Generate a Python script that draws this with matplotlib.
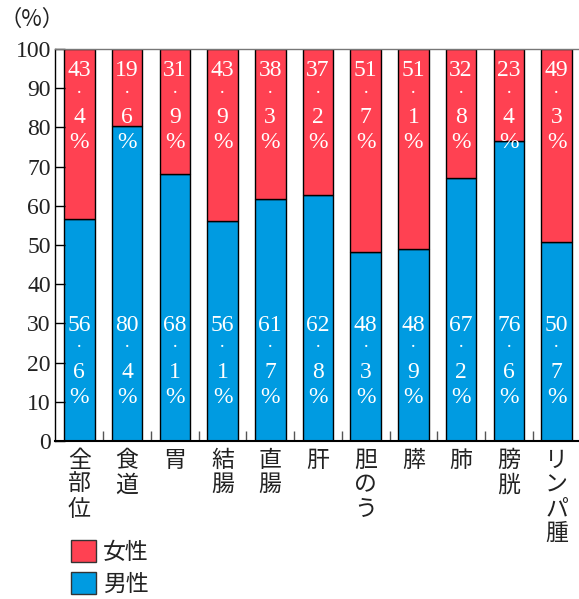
# Stacked share of cancer cases by sex, per site

import matplotlib
matplotlib.use('Agg')
import matplotlib.pyplot as plt
from matplotlib.patches import Patch

# Data
sites=['全部位','食道','胃','結腸','直腸','肝','胆のう','膵','肺','膀胱','リンパ腫']
male=[56.6,80.4,68.1,56.1,61.7,62.8,48.3,48.9,67.2,76.6,50.7]
female=[43.4,19.6,31.9,43.9,38.3,37.2,51.7,51.1,32.8,23.4,49.3]
male_lbl=['56.6','80.4','68.1','56.1','61.7','62.8','48.3','48.9','67.2','76.6','50.7']
female_lbl=['43.4','19.6','31.9','43.9','38.3','37.2','51.7','51.1','32.8','23.4','49.3']
yticks=[0,10,20,30,40,50,60,70,80,90,100]

red='#ff4152'
blue='#009be1'
serif='Liberation Serif'
cjk='Noto Sans CJK JP'

fig=plt.figure(figsize=(5.79,5.99),dpi=100,facecolor='white')
ax=fig.add_axes([55/579,1-441/599,1-55/579,392/599])

x=list(range(len(sites)))
ax.bar(x,male,width=0.64,color=blue,edgecolor='black',linewidth=1.0)
ax.bar(x,female,width=0.64,bottom=male,color=red,edgecolor='black',linewidth=1.0)

ax.set_xlim(-0.51,10.47)
ax.set_ylim(0,100)

# spines
ax.spines['right'].set_visible(False)
ax.spines['top'].set_color('#777777')
ax.spines['top'].set_linewidth(1.0)
ax.spines['left'].set_linewidth(1.0)
ax.spines['bottom'].set_linewidth(1.5)

ax.set_yticks(yticks)
ax.set_yticklabels([str(v) for v in yticks],fontfamily=serif,fontsize=17,color='#222222')
ax.set_xticks([i+0.5 for i in x[:-1]])
ax.set_xticklabels([])
ax.tick_params(axis='y',direction='in',length=7,width=1,pad=3)
ax.tick_params(axis='x',direction='in',length=7,width=1,color='#555555')

# vertical labels inside bars: number, dot, decimal, percent
def vlabel(i,txt,yref,offs):
    a,b=txt.split('.')
    parts=[(a,serif,17),('·',serif,14),(b,serif,17),('%',serif,17)]
    for (s,fam,sz),o in zip(parts,offs):
        ax.annotate(s,xy=(i,yref),xytext=(0,o),textcoords='offset points',
                    ha='center',va='center',color='white',fontsize=sz,
                    family=fam)

for i in x:
    vlabel(i,female_lbl[i],100,[-15.3,-31.8,-49.5,-67.4])
    vlabel(i,male_lbl[i],0,[83.5,67.5,49.0,31.5])

# category names written top to bottom under the axis
for i,name in enumerate(sites):
    for k,ch in enumerate(name):
        ax.annotate(ch,xy=(i,0),xycoords=('data','axes fraction'),
                    xytext=(0,-14.0-17.6*k),textcoords='offset points',
                    ha='center',va='center',fontsize=16.5,family=cjk,color='#222222')

fig.text(32/579,1-19/599,'（%）',ha='center',va='center',fontsize=16,family=[cjk],color='#222222')

handles=[Patch(facecolor=red,edgecolor='#333333',linewidth=1.0),
         Patch(facecolor=blue,edgecolor='#333333',linewidth=1.0)]
leg=fig.legend(handles,['女性','男性'],loc='upper left',
               bbox_to_anchor=(62/579,1-531/599),frameon=False,
               prop={'family':cjk,'size':16.5},handlelength=1.1,handleheight=1.1,
               handletextpad=0.3,labelspacing=0.35,borderaxespad=0)
for t in leg.get_texts():
    t.set_color('#222222')

fig.savefig('out.png',dpi=100,facecolor='white')
